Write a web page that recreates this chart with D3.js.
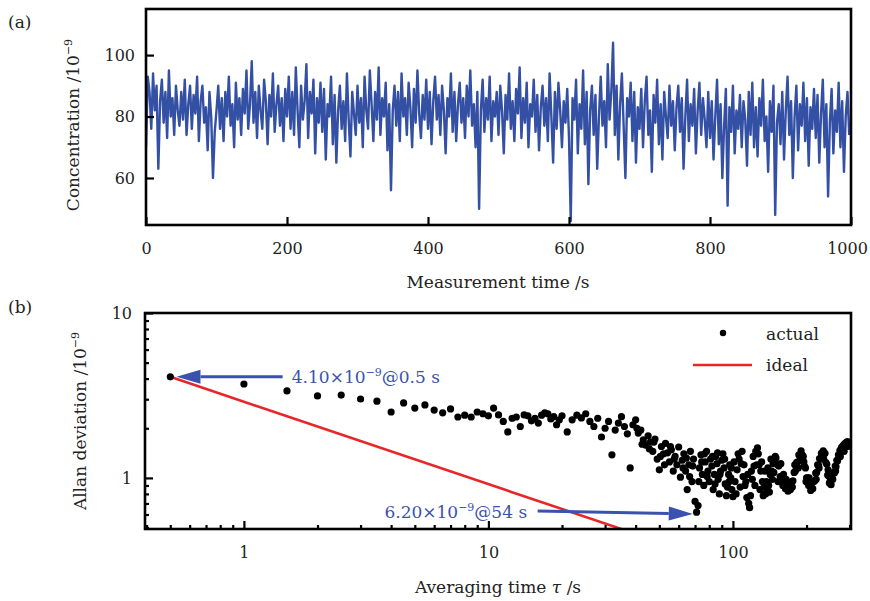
<!DOCTYPE html>
<html>
<head>
<meta charset="UTF-8">
<title>concentration and allan deviation</title>
<script src="https://d3js.org/d3.v7.min.js"></script>
<style>
body{margin:0;background:#fff;}
svg{display:block;font-family:"DejaVu Serif",serif;}
.frame{fill:none;stroke:#000;stroke-width:2.6;}
.axis path{display:none;}
.axis line{stroke:#000;stroke-width:2.2;}
.axis text{font-family:"DejaVu Serif",serif;font-size:16px;fill:#222;}
.lbl{font-size:17px;fill:#222;}
</style>
</head>
<body>
<div id="chart"></div>
<script>
// (a) concentration, one value every 2.5 s
var sampleStep = 2.5;
var concValues = [
 70,93,88,76,94,82,90,63,85,92,78,88,73,95,80,86,74,90,82,77,
 88,79,92,74,84,90,76,87,81,93,72,85,90,78,83,69,88,80,60,75,
 82,90,76,86,72,88,80,93,77,84,70,91,79,86,74,89,81,95,76,84,
 98,78,88,73,90,82,76,92,85,71,87,80,94,75,84,90,77,86,72,89,
 80,93,76,88,74,96,82,70,90,79,85,97,73,88,81,92,68,86,78,91,
 75,89,66,84,80,93,71,87,65,82,90,76,85,72,94,79,67,88,81,74,
 90,78,86,70,93,82,76,95,84,72,88,79,96,74,86,80,91,69,84,56,
 82,90,77,88,72,94,80,86,74,91,83,70,89,78,95,81,73,87,79,92,
 76,88,71,85,93,79,87,74,90,82,68,86,80,94,75,88,72,84,91,78,
 86,73,90,80,95,77,84,70,88,50,82,92,75,86,79,93,72,85,80,88,
 74,90,82,68,87,79,94,76,85,72,89,81,96,73,86,78,91,70,84,80,
 92,75,87,69,83,90,77,86,72,94,80,65,88,76,91,82,70,85,78,89,
 73,46,86,79,92,68,84,76,95,71,88,58,82,90,74,87,63,80,93,77,
 85,70,97,79,88,104,74,90,66,84,94,77,60,86,80,91,72,88,65,83,
 76,89,70,85,93,74,82,62,87,78,92,71,84,66,88,80,73,90,77,85,
 69,83,90,75,86,63,80,92,72,84,77,89,68,82,91,74,86,79,70,88,
 73,85,66,80,92,71,84,60,77,89,51,83,75,90,68,82,76,87,70,85,
 79,64,88,74,91,70,83,67,86,77,92,72,80,62,85,75,90,48,78,84,
 71,88,66,82,93,74,85,60,80,90,69,84,77,91,72,86,64,83,76,89,
 73,87,65,81,92,70,84,54,78,89,68,82,75,91,70,85,62,80,88,74
];
var concTicks = [60, 80, 100];
var timeTicks = [0, 200, 400, 600, 800, 1000];

// (b) Allan deviation, [tau, sigma]
var allanPoints = [
 [0.5,4.10],[1,3.71],[1.5,3.37],[2,3.14],[2.5,3.18],[3,3.01],[3.5,2.92],[4,2.51],[4.5,2.85],[5,2.65],
 [5.5,2.77],[6,2.58],[6.5,2.48],[7,2.62],[7.5,2.34],[8,2.40],[8.5,2.34],[9,2.51],[9.5,2.45],[10,2.38],
 [10.5,2.65],[11,2.41],[11.5,2.20],[12,1.90],[12.5,2.30],[13,2.34],[13.5,2.05],[14,2.41],[14.5,2.38],[15,2.22],
 [15.5,2.30],[16,2.15],[16.5,2.40],[17,2.48],[17.5,2.45],[18,2.28],[18.5,2.35],[19,2.10],[19.5,2.25],[20,2.38],
 [21,1.90],[22,2.25],[23,2.40],[24,2.31],[25,2.45],[26,2.20],[27,2.05],[28,2.30],[29,1.77],[30,2.00],
 [31,2.20],[32,1.38],[33,1.95],[34,2.15],[35,2.35],[36,2.05],[37,1.85],[38,1.15],[39,2.10],[40,2.25],
 [41,1.87],[42,1.95],[43,1.70],[44,1.58],[45,1.80],[46,1.65],[47,1.45],[48,1.72],[49,1.30],[50,1.12],
 [51,1.55],[52,1.40],[53,1.62],[54,1.42],[55,1.25],[56,1.48],[57,1.10],[58,1.35],[59,1.20],[60,1.54],
 [40.5,2.00],[42.5,1.60],[45.5,1.50],[47.5,1.65],[50.5,1.35],[52.5,1.20],[55.5,1.55],[57.5,1.30],
 [61,1.01],[62,1.28],[63,1.40],[64,1.10],[65,0.85],[66,1.20],[67,1.45],[68,0.95],[69,1.30],[70,0.72],
 [71,0.62],[72,0.68],[73,1.15],[74,1.38],[75,1.05],[76,0.90],[77,1.25],[78,1.45],[79,1.10],[80,0.95],
 [81,1.30],[82,1.18],[83,0.85],[84,1.05],[85,1.35],[86,1.22],[87,0.98],[88,0.80],[89,1.10],[90,1.28],
 [91,1.40],[92,1.15],[93,0.92],[94,0.78],[95,0.88],[96,1.05],[97,1.20],[98,1.00],[99,0.85],[100,0.77],
 [62.5,1.15],[64.5,1.32],[66.5,1.02],[68.5,1.18],[72.5,0.95],[74.5,1.25],[76.5,1.40],[78.5,1.02],
 [82.5,1.35],[84.5,0.92],[86.5,1.42],[88.5,1.05],[92.5,1.30],[96.5,0.95],[98.5,1.15],
 [102,0.95],[104,1.12],[106,1.30],[108,1.22],[110,1.02],[112,0.90],[114,0.76],[116,0.70],[118,0.78],[120,0.98],
 [122,1.18],[124,1.45],[126,1.52],[128,1.20],[130,1.10],[132,0.95],[134,0.88],[136,0.80],[138,0.86],[140,0.90],
 [142,1.05],[144,1.10],[146,1.22],[148,1.24],[150,1.32],[152,1.20],[154,1.18],[156,1.02],[158,1.00],[160,0.90],
 [162,0.93],[164,0.86],[166,0.89],[168,0.83],[170,0.88],[172,0.85],[174,0.95],[176,0.96],[178,1.08],[180,1.10],
 [182,1.24],[184,1.25],[186,1.38],[188,1.36],[190,1.46],[192,1.38],[194,1.35],[196,1.18],[198,1.15],[200,1.00],
 [202,1.00],[204,0.90],[206,0.91],[208,0.84],[210,0.87],[212,0.86],[214,0.95],[216,0.96],[218,1.07],[220,1.08],
 [222,1.20],[224,1.19],[226,1.31],[228,1.30],[230,1.41],[232,1.40],[234,1.46],[236,1.40],[238,1.41],[240,1.24],
 [242,1.21],[244,1.04],[246,1.03],[248,0.93],[250,0.96],[252,0.91],[254,0.99],[256,0.98],[258,1.08],[260,1.07],
 [262,1.18],[264,1.17],[266,1.28],[268,1.27],[270,1.38],[272,1.37],[274,1.47],[276,1.45],[278,1.53],[280,1.49],
 [282,1.57],[284,1.53],[286,1.61],[288,1.57],[290,1.64],[292,1.60],[294,1.66],[296,1.63],
 [101,1.25],[103,0.80],[105,1.40],[107,0.88],[109,1.45],[111,1.20],[113,0.95],[115,1.05],[117,0.66],[119,1.10],
 [121,1.35],[123,0.90],[125,1.20],[127,1.40],[129,0.85],[131,1.25],[133,0.78],[135,1.10],[137,0.95],[139,1.15],
 [141,0.82],[143,1.30],[145,0.98],[147,1.08],[149,1.35],[153,0.95],[157,1.22],[161,1.05],[165,0.98],[169,0.92],
 [175,0.88],[179,1.20],[185,1.15],[189,1.30],[195,1.25],[199,0.95],[205,1.00],[211,0.95],[219,0.98],[225,1.15],
 [235,1.30],[245,1.12],[253,1.00],[263,1.10],[275,1.35],[285,1.45],[295,1.55]
];
// ideal tau^-1/2 line, end points
var idealPoints = [[0.5,4.10],[40,0.458]];
var tauMajor = [1, 10, 100];
var tauMinor = [0.4,0.5,0.6,0.7,0.8,0.9,2,3,4,5,6,7,8,9,20,30,40,50,60,70,80,90,200,300];
var devMajor = [1, 10];
var devMinor = [0.5,0.6,0.7,0.8,0.9,2,3,4,5,6,7,8,9];

// annotations: arrow from -> to (tip), label anchor
var arrows = [
 {from:[1.44,4.10], to:[0.53,4.10], label:"4.10", at:"0.5 s", pos:[1.57,3.77], anchor:"start"},
 {from:[15.9,0.63], to:[68.5,0.605], label:"6.20", at:"54 s", pos:[14.4,0.57], anchor:"end"}
];

var blue = "#3450a4", arrowBlue = "#3a52ad", red = "#e8262a";

var svg = d3.select("#chart").append("svg")
  .attr("width", 870).attr("height", 601);

// ---------- panel (a)
var xA = d3.scaleLinear().domain([0, 1000]).range([146, 851]);
var yA = d3.scaleLinear().domain([44.7, 115]).range([225, 9]);

svg.append("clipPath").attr("id", "clipA").append("rect")
  .attr("x", 146).attr("y", 9).attr("width", 705).attr("height", 216);

svg.append("path")
  .datum(concValues)
  .attr("clip-path", "url(#clipA)")
  .attr("fill", "none")
  .attr("stroke", blue)
  .attr("stroke-width", 2.4)
  .attr("stroke-linejoin", "round")
  .attr("d", d3.line().x(function(d, i){ return xA(i * sampleStep); }).y(function(d){ return yA(d); }));

var axA = svg.append("g").attr("class", "axis")
  .attr("transform", "translate(0,225)")
  .call(d3.axisBottom(xA).tickValues(timeTicks).tickSize(-8).tickPadding(18).tickFormat(d3.format("d")));
// keep the last label inside the page
axA.selectAll(".tick text").filter(function(d){ return d === 1000; }).attr("dx", -4);
svg.append("g").attr("class", "axis")
  .attr("transform", "translate(146,0)")
  .call(d3.axisLeft(yA).tickValues(concTicks).tickSize(-8).tickPadding(11));

svg.append("rect").attr("class", "frame")
  .attr("x", 146).attr("y", 9).attr("width", 705).attr("height", 216);

svg.append("text").attr("class", "lbl").attr("x", 8).attr("y", 28).text("(a)");
svg.append("text").attr("class", "lbl").attr("x", 498).attr("y", 288)
  .attr("text-anchor", "middle").text("Measurement time /s");
var ta = svg.append("text").attr("class", "lbl")
  .attr("transform", "translate(79,125) rotate(-90)").attr("text-anchor", "middle");
ta.append("tspan").text("Concentration /10");
ta.append("tspan").attr("dy", -7).attr("font-size", 11).text("\u22129");

// ---------- panel (b)
var xB = d3.scaleLog().domain([0.394, 304]).range([145, 851]);
var yB = d3.scaleLog().domain([0.49, 10]).range([529, 313]);

svg.append("clipPath").attr("id", "clipB").append("rect")
  .attr("x", 145).attr("y", 313).attr("width", 706).attr("height", 216);

svg.append("path")
  .datum(idealPoints)
  .attr("clip-path", "url(#clipB)")
  .attr("fill", "none")
  .attr("stroke", red)
  .attr("stroke-width", 2.6)
  .attr("d", d3.line().x(function(d){ return xB(d[0]); }).y(function(d){ return yB(d[1]); }));

svg.append("g").attr("clip-path", "url(#clipB)")
  .selectAll("circle").data(allanPoints).enter().append("circle")
  .attr("cx", function(d){ return xB(d[0]); })
  .attr("cy", function(d){ return yB(d[1]); })
  .attr("r", 3.6)
  .attr("fill", "#000");

// arrows
arrows.forEach(function(a){
  var x0 = xB(a.from[0]), y0 = yB(a.from[1]);
  var x1 = xB(a.to[0]), y1 = yB(a.to[1]);
  var ang = Math.atan2(y1 - y0, x1 - x0);
  var hl = 24, hw = 7;
  var bx = x1 - hl * Math.cos(ang), by = y1 - hl * Math.sin(ang);
  svg.append("line")
    .attr("x1", x0).attr("y1", y0).attr("x2", bx).attr("y2", by)
    .attr("stroke", arrowBlue).attr("stroke-width", 3);
  svg.append("path")
    .attr("fill", arrowBlue)
    .attr("d", "M" + x1 + "," + y1 +
      "L" + (bx + hw * Math.sin(ang)) + "," + (by - hw * Math.cos(ang)) +
      "L" + (bx - hw * Math.sin(ang)) + "," + (by + hw * Math.cos(ang)) + "Z");
  var t = svg.append("text").attr("class", "lbl")
    .attr("x", xB(a.pos[0])).attr("y", yB(a.pos[1]))
    .attr("text-anchor", a.anchor).style("fill", arrowBlue);
  t.append("tspan").text(a.label + "\u00d710");
  t.append("tspan").attr("dy", -7).attr("font-size", 11).text("\u22129");
  t.append("tspan").attr("dy", 7).text("@" + a.at);
});

svg.append("g").attr("class", "axis")
  .attr("transform", "translate(0,529)")
  .call(d3.axisBottom(xB).tickValues(tauMajor).tickSize(-8).tickPadding(18).tickFormat(d3.format("d")));
svg.append("g").attr("class", "axis")
  .attr("transform", "translate(0,529)")
  .call(d3.axisBottom(xB).tickValues(tauMinor).tickSize(-4).tickFormat(""));
svg.append("g").attr("class", "axis")
  .attr("transform", "translate(145,0)")
  .call(d3.axisLeft(yB).tickValues(devMajor).tickSize(-8).tickPadding(13).tickFormat(d3.format("d")));
svg.append("g").attr("class", "axis")
  .attr("transform", "translate(145,0)")
  .call(d3.axisLeft(yB).tickValues(devMinor).tickSize(-4).tickFormat(""));

svg.append("rect").attr("class", "frame")
  .attr("x", 145).attr("y", 313).attr("width", 706).attr("height", 216);

// legend
var leg = svg.append("g");
leg.append("circle").attr("cx", 723).attr("cy", 333).attr("r", 3.2).attr("fill", "#000");
leg.append("text").attr("class", "lbl").attr("x", 766).attr("y", 340).text("actual");
leg.append("line").attr("x1", 693).attr("x2", 752).attr("y1", 365).attr("y2", 365)
  .attr("stroke", red).attr("stroke-width", 2.6);
leg.append("text").attr("class", "lbl").attr("x", 766).attr("y", 371).text("ideal");

svg.append("text").attr("class", "lbl").attr("x", 8).attr("y", 313).text("(b)");
var tx = svg.append("text").attr("class", "lbl").attr("x", 498).attr("y", 593)
  .attr("text-anchor", "middle");
tx.append("tspan").text("Averaging time ");
tx.append("tspan").attr("font-style", "italic").text("\u03c4");
tx.append("tspan").text(" /s");
var tb = svg.append("text").attr("class", "lbl")
  .attr("transform", "translate(86,421) rotate(-90)").attr("text-anchor", "middle");
tb.append("tspan").text("Allan deviation /10");
tb.append("tspan").attr("dy", -7).attr("font-size", 11).text("\u22129");
</script>
</body>
</html>
